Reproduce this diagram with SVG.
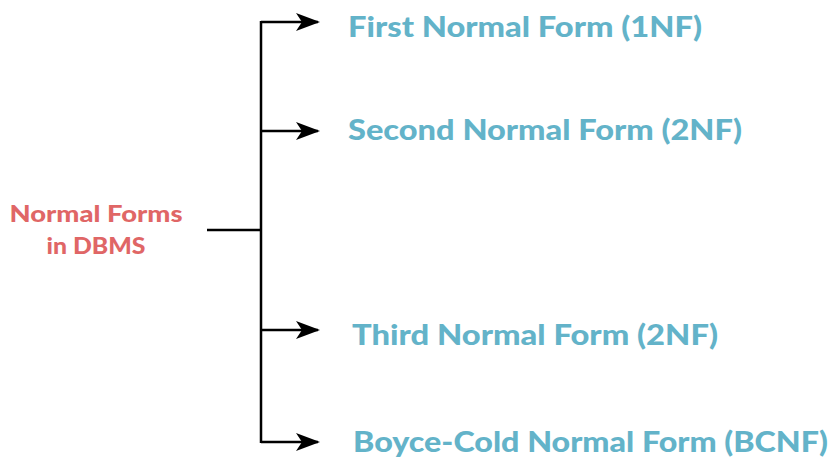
<svg xmlns="http://www.w3.org/2000/svg" width="830" height="457" viewBox="0 0 830 457">
<style>
.c{stroke:#000;stroke-width:2.5;fill:none}
.t{font-family:Lato,"Open Sans",sans-serif;font-weight:900;font-size:28px;fill:#63b3c9}
.r{font-family:Lato,"Open Sans",sans-serif;font-weight:900;font-size:23px;fill:#e06666;text-anchor:middle}
</style>
<defs>
<marker id="a" viewBox="0 0 24 18" refX="22" refY="9" markerWidth="24" markerHeight="18" markerUnits="userSpaceOnUse" orient="auto">
<path d="M0,0 L24,9 L0,18 L6,9 Z" fill="#000"/>
</marker>
</defs>
<rect width="830" height="457" fill="#fff"/>
<g id="connectors">
<path class="c" d="M207,230 H261"/>
<path class="c" d="M261,21 V443"/>
<path class="c" d="M261,22 H318" marker-end="url(#a)"/>
<path class="c" d="M261,131 H318" marker-end="url(#a)"/>
<path class="c" d="M261,330 H318" marker-end="url(#a)"/>
<path class="c" d="M261,442 H318" marker-end="url(#a)"/>
</g>
<g id="root"><text class="r" x="96" y="222" textLength="173" lengthAdjust="spacingAndGlyphs">Normal Forms</text><text class="r" x="96" y="254" textLength="99" lengthAdjust="spacingAndGlyphs">in DBMS</text></g>
<g id="n1"><text class="t" x="348" y="37" textLength="354" lengthAdjust="spacingAndGlyphs">First Normal Form (1NF)</text></g>
<g id="n2"><text class="t" x="348" y="140" textLength="394" lengthAdjust="spacingAndGlyphs">Second Normal Form (2NF)</text></g>
<g id="n3"><text class="t" x="352" y="345" textLength="366" lengthAdjust="spacingAndGlyphs">Third Normal Form (2NF)</text></g>
<g id="n4"><text class="t" x="353" y="452" textLength="475" lengthAdjust="spacingAndGlyphs">Boyce-Cold Normal Form (BCNF)</text></g>
</svg>
